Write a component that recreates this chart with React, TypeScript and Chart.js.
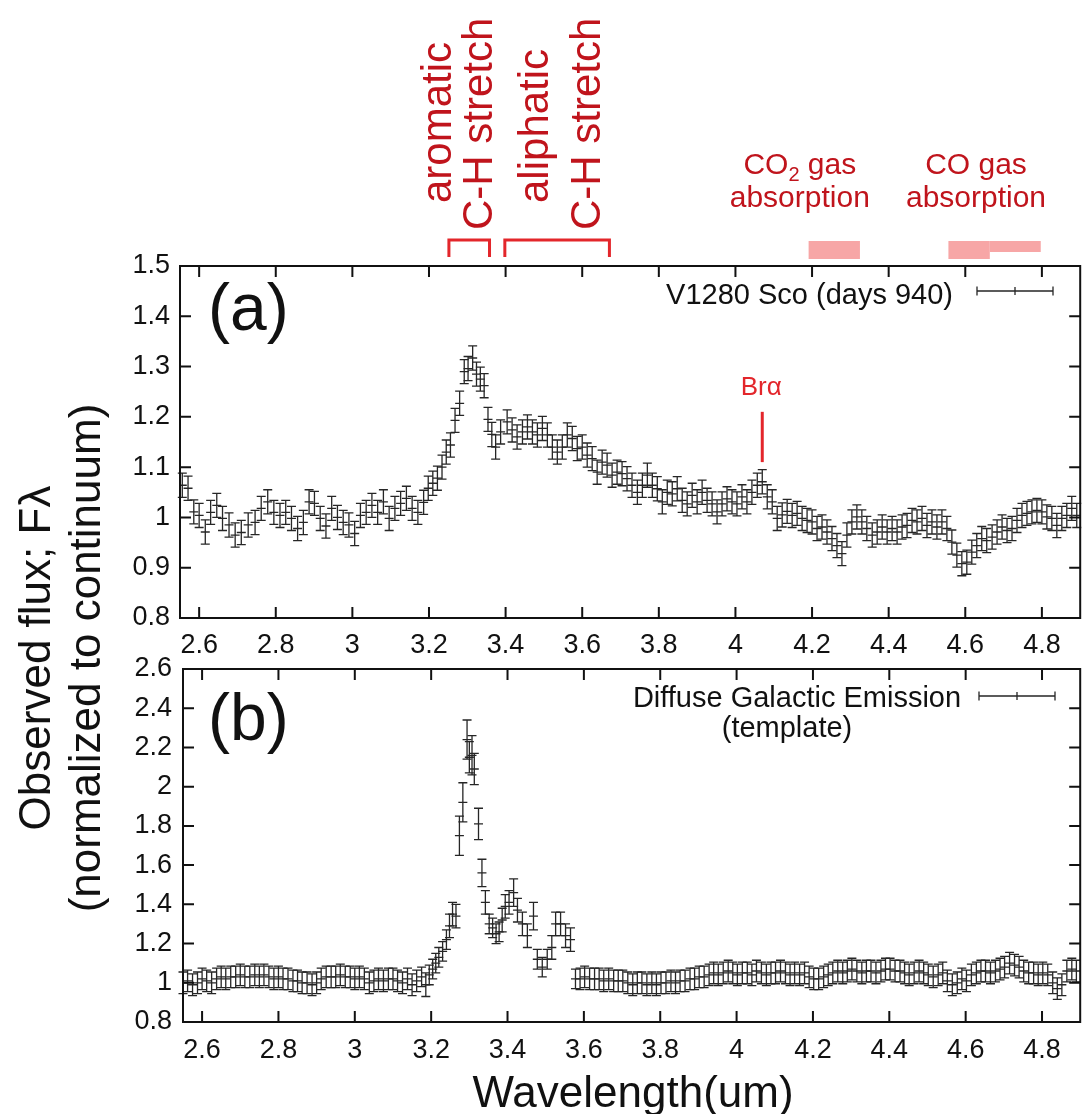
import React, { useEffect, useRef } from 'react';
import { Chart, registerables } from 'chart.js';

Chart.register(...registerables);

const PAGE_W = 1086;
const PAGE_H = 1114;
const FONT = '"Liberation Sans", Arial, Helvetica, sans-serif';
const INK = '#111111';
const BAR_INK = '#262626';
const DARK_RED = '#c0141c';
const RED = '#e3262b';
const PINK = '#f7a6a6';

// ---------- axes ----------
const X_MIN = 2.55;
const X_MAX = 4.9;
const X_TICKS = [2.6, 2.8, 3.0, 3.2, 3.4, 3.6, 3.8, 4.0, 4.2, 4.4, 4.6, 4.8];
const Y_TICKS_A = [0.8, 0.9, 1.0, 1.1, 1.2, 1.3, 1.4, 1.5];
const Y_TICKS_B = [0.8, 1.0, 1.2, 1.4, 1.6, 1.8, 2.0, 2.2, 2.4, 2.6];

// ---------- panel (a): V1280 Sco (days 940) ----------
const WL_A = [
  2.556, 2.571, 2.586, 2.600, 2.616, 2.630, 2.646, 2.661, 2.678, 2.694,
  2.710, 2.728, 2.746, 2.762, 2.779, 2.795, 2.811, 2.826, 2.841, 2.857,
  2.872, 2.887, 2.901, 2.916, 2.931, 2.946, 2.961, 2.976, 2.991, 3.006,
  3.021, 3.036, 3.051, 3.066, 3.081, 3.096, 3.111, 3.126, 3.141, 3.156,
  3.171, 3.186, 3.198, 3.210, 3.222, 3.234, 3.245, 3.256, 3.268, 3.280,
  3.292, 3.302, 3.314, 3.324, 3.334, 3.344, 3.354, 3.364, 3.374, 3.387,
  3.404, 3.417, 3.430, 3.444, 3.457, 3.470, 3.483, 3.496, 3.509, 3.522,
  3.535, 3.548, 3.561, 3.574, 3.587, 3.600, 3.613, 3.626, 3.639, 3.652,
  3.665, 3.678, 3.691, 3.704, 3.717, 3.730, 3.744, 3.757, 3.770, 3.783,
  3.796, 3.809, 3.822, 3.835, 3.848, 3.861, 3.874, 3.887, 3.900, 3.913,
  3.926, 3.939, 3.952, 3.965, 3.978, 3.991, 4.004, 4.017, 4.030, 4.043,
  4.057, 4.070, 4.083, 4.096, 4.109, 4.122, 4.135, 4.148, 4.161, 4.174,
  4.187, 4.200, 4.213, 4.226, 4.239, 4.252, 4.265, 4.278, 4.291, 4.304,
  4.317, 4.330, 4.343, 4.357, 4.370, 4.383, 4.396, 4.409, 4.422, 4.435,
  4.448, 4.461, 4.474, 4.487, 4.500, 4.513, 4.526, 4.539, 4.552, 4.565,
  4.578, 4.591, 4.604, 4.617, 4.630, 4.643, 4.656, 4.670, 4.683, 4.696,
  4.709, 4.722, 4.735, 4.748, 4.761, 4.774, 4.787, 4.800, 4.813, 4.826,
  4.839, 4.852, 4.865, 4.878, 4.891,
];
const FLUX_A = [
  1.064, 1.058, 1.011, 1.004, 0.971, 1.010, 1.024, 0.998, 0.985, 0.965,
  0.970, 0.985, 0.990, 1.018, 1.031, 1.010, 1.004, 1.010, 0.998, 0.978,
  0.990, 1.031, 1.028, 0.998, 0.983, 1.018, 1.000, 0.990, 0.985, 0.968,
  1.004, 1.010, 1.024, 1.010, 1.031, 0.998, 1.018, 1.028, 1.038, 1.018,
  1.010, 1.030, 1.058, 1.068, 1.078, 1.100, 1.130, 1.144, 1.193, 1.227,
  1.290, 1.296, 1.317, 1.285, 1.275, 1.262, 1.195, 1.165, 1.140, 1.170,
  1.190, 1.174, 1.160, 1.170, 1.180, 1.170, 1.164, 1.177, 1.164, 1.140,
  1.130, 1.140, 1.164, 1.157, 1.137, 1.140, 1.124, 1.117, 1.090, 1.110,
  1.104, 1.084, 1.090, 1.087, 1.077, 1.064, 1.050, 1.064, 1.084, 1.064,
  1.057, 1.031, 1.050, 1.047, 1.057, 1.034, 1.027, 1.044, 1.031, 1.050,
  1.034, 1.027, 1.011, 1.027, 1.037, 1.031, 1.027, 1.041, 1.031, 1.050,
  1.064, 1.071, 1.041, 1.031, 0.998, 1.005, 1.012, 1.004, 1.008, 0.998,
  0.994, 0.991, 0.978, 0.981, 0.971, 0.958, 0.944, 0.928, 0.965, 0.991,
  1.001, 0.991, 0.978, 0.965, 0.971, 0.981, 0.971, 0.978, 0.971, 0.981,
  0.984, 0.994, 0.991, 0.998, 0.984, 0.991, 0.981, 0.991, 0.978, 0.951,
  0.925, 0.908, 0.911, 0.931, 0.944, 0.958, 0.954, 0.961, 0.971, 0.981,
  0.974, 0.978, 0.994, 1.004, 1.008, 1.011, 1.014, 1.011, 1.001, 0.998,
  0.984, 0.998, 1.004, 1.018, 1.004,
];
const ERR_A = 0.024;

// ---------- panel (b): Diffuse Galactic Emission (template) ----------
const WL_B1 = [
  2.550, 2.562, 2.575, 2.588, 2.600, 2.612, 2.625, 2.638, 2.650, 2.662,
  2.675, 2.688, 2.700, 2.712, 2.725, 2.738, 2.750, 2.762, 2.775, 2.788,
  2.800, 2.812, 2.825, 2.838, 2.850, 2.862, 2.875, 2.888, 2.900, 2.912,
  2.925, 2.938, 2.950, 2.962, 2.975, 2.988, 3.000, 3.012, 3.025, 3.038,
  3.050, 3.062, 3.075, 3.088, 3.100, 3.112, 3.125, 3.138, 3.150, 3.162,
];
const FLUX_B1 = [
  1.00, 1.01, 0.99, 1.00, 1.02, 1.01, 1.00, 1.02, 1.03, 1.02,
  1.03, 1.03, 1.04, 1.03, 1.03, 1.04, 1.03, 1.04, 1.03, 1.02,
  1.03, 1.02, 1.02, 1.01, 1.01, 1.00, 1.00, 0.99, 1.00, 1.02,
  1.03, 1.03, 1.03, 1.04, 1.03, 1.03, 1.02, 1.03, 1.02, 1.00,
  1.01, 1.02, 1.01, 1.02, 1.02, 1.01, 1.00, 1.02, 0.99, 1.01,
];
const ERR_B1 = 0.055;

const WL_B2 = [
  3.175, 3.186, 3.195, 3.204, 3.212, 3.220, 3.230, 3.240, 3.248, 3.256,
  3.265, 3.274, 3.283, 3.294, 3.300, 3.307, 3.313, 3.324, 3.333, 3.342,
  3.352, 3.361, 3.370, 3.378, 3.386, 3.394, 3.404, 3.416, 3.426, 3.439,
  3.452, 3.468, 3.478, 3.491, 3.504, 3.516, 3.526, 3.539, 3.552, 3.565,
  3.578,
];
const FLUX_B2 = [
  1.03, 0.99, 1.04, 1.07, 1.10, 1.13, 1.16, 1.22, 1.29, 1.35,
  1.34, 1.75, 1.92, 2.24, 2.15, 2.16, 2.09, 1.81, 1.56, 1.41,
  1.30, 1.28, 1.25, 1.26, 1.32, 1.39, 1.41, 1.46, 1.37, 1.30,
  1.24, 1.34, 1.12, 1.08, 1.12, 1.18, 1.30, 1.30, 1.24, 1.22,
  1.02,
];
const ERR_B2 = [
  0.05, 0.06, 0.05, 0.05, 0.05, 0.05, 0.05, 0.05, 0.06, 0.06,
  0.06, 0.10, 0.10, 0.10, 0.08, 0.10, 0.08, 0.08, 0.07, 0.06,
  0.05, 0.05, 0.05, 0.05, 0.06, 0.06, 0.06, 0.07, 0.06, 0.06,
  0.06, 0.07, 0.05, 0.05, 0.05, 0.06, 0.06, 0.06, 0.06, 0.06,
  0.05,
];

const WL_B3 = [
  3.590, 3.602, 3.615, 3.628, 3.640, 3.652, 3.665, 3.678, 3.690, 3.702,
  3.715, 3.728, 3.740, 3.752, 3.765, 3.778, 3.790, 3.802, 3.815, 3.828,
  3.840, 3.852, 3.865, 3.878, 3.890, 3.902, 3.915, 3.928, 3.940, 3.952,
  3.965, 3.978, 3.990, 4.002, 4.015, 4.028, 4.040, 4.052, 4.065, 4.078,
  4.090, 4.102, 4.115, 4.128, 4.140, 4.152, 4.165, 4.178, 4.190, 4.202,
  4.215, 4.228, 4.240, 4.252, 4.265, 4.278, 4.290, 4.302, 4.315, 4.328,
  4.340, 4.352, 4.365, 4.378, 4.390, 4.402, 4.415, 4.428, 4.440, 4.452,
  4.465, 4.478, 4.490, 4.502, 4.515, 4.528, 4.540, 4.552, 4.565, 4.578,
  4.590, 4.602, 4.615, 4.628, 4.640, 4.652, 4.665, 4.678, 4.690, 4.702,
  4.715, 4.728, 4.740, 4.752, 4.765, 4.778, 4.790, 4.802, 4.815, 4.828,
  4.840, 4.852, 4.865, 4.878, 4.890,
];
const FLUX_B3 = [
  1.02, 1.03, 1.02, 1.02, 1.02, 1.01, 1.02, 1.01, 1.01, 1.01,
  1.00, 0.99, 1.00, 1.00, 0.99, 1.00, 0.99, 1.00, 1.00, 1.01,
  1.00, 1.01, 1.01, 1.02, 1.02, 1.03, 1.03, 1.04, 1.05, 1.04,
  1.05, 1.06, 1.05, 1.04, 1.05, 1.05, 1.04, 1.06, 1.05, 1.04,
  1.05, 1.05, 1.06, 1.05, 1.04, 1.05, 1.04, 1.05, 1.03, 1.02,
  1.02, 1.03, 1.04, 1.05, 1.06, 1.05, 1.06, 1.07, 1.06, 1.05,
  1.06, 1.06, 1.05, 1.06, 1.07, 1.07, 1.06, 1.06, 1.05, 1.04,
  1.05, 1.06, 1.05, 1.04, 1.03, 1.04, 1.05, 1.01, 0.99, 1.00,
  1.02, 1.01, 1.04, 1.05, 1.06, 1.06, 1.05, 1.06, 1.07, 1.08,
  1.10, 1.09, 1.08, 1.06, 1.05, 1.05, 1.04, 1.05, 1.04, 1.00,
  0.97, 0.99, 1.06, 1.07, 1.06,
];
const ERR_B3 = 0.055;

// ---------- annotation anchors (wavelength, um) ----------
const AROMATIC_BAND = [3.252, 3.358];
const ALIPHATIC_BAND = [3.398, 3.671];
const CO2_BAND = [4.191, 4.325];
const CO_BAND = [4.556, 4.664, 4.797];
const BR_ALPHA_WL = 4.07;
const BR_ALPHA_SPAN = [1.11, 1.21];
const BAND_LABELS = [
  { text: 'aromatic', wl: 3.2575, start: 203 },
  { text: 'C-H stretch', wl: 3.3634, start: 230 },
  { text: 'aliphatic', wl: 3.5105, start: 203 },
  { text: 'C-H stretch', wl: 3.6462, start: 230 },
];
const GAS_LABELS = [
  { main: 'CO', sub: '2', rest: ' gas', wl: 4.168 },
  { main: 'CO', sub: '', rest: ' gas', wl: 4.628 },
];

type Area = { left: number; right: number; top: number; bottom: number };

function vText(ctx: CanvasRenderingContext2D, text: string, x: number, y: number, align: CanvasTextAlign) {
  ctx.save();
  ctx.translate(x, y);
  ctx.rotate(-Math.PI / 2);
  ctx.textAlign = align;
  ctx.textBaseline = 'alphabetic';
  ctx.fillText(text, 0, 0);
  ctx.restore();
}

function legendBar(ctx: CanvasRenderingContext2D, x1: number, x2: number, y: number) {
  ctx.save();
  ctx.strokeStyle = BAR_INK;
  ctx.lineWidth = 1.3;
  const xm = (x1 + x2) / 2;
  ctx.beginPath();
  ctx.moveTo(x1, y); ctx.lineTo(x2, y);
  ctx.moveTo(x1, y - 4.5); ctx.lineTo(x1, y + 4.5);
  ctx.moveTo(x2, y - 4.5); ctx.lineTo(x2, y + 4.5);
  ctx.moveTo(xm, y - 4); ctx.lineTo(xm, y + 4);
  ctx.stroke();
  ctx.restore();
}

const CAP = 4.5;

const frameAndErrors = {
  id: 'frameAndErrors',
  afterDatasetsDraw(chart: any) {
    const { ctx } = chart;
    const xs = chart.scales.x;
    const ys = chart.scales.y;
    ctx.save();
    ctx.strokeStyle = BAR_INK;
    ctx.lineWidth = 1.3;
    chart.data.datasets.forEach((ds: any) => {
      ds.data.forEach((p: any, i: number) => {
        const e = ds.errors[i];
        const px = xs.getPixelForValue(p.x);
        const yt = ys.getPixelForValue(p.y + e);
        const yb = ys.getPixelForValue(p.y - e);
        ctx.beginPath();
        ctx.moveTo(px, yt); ctx.lineTo(px, yb);
        ctx.moveTo(px - CAP, yt); ctx.lineTo(px + CAP, yt);
        ctx.moveTo(px - CAP, yb); ctx.lineTo(px + CAP, yb);
        ctx.stroke();
      });
    });
    ctx.restore();
  },
  afterDraw(chart: any) {
    const { ctx, chartArea: ca } = chart;
    const xs = chart.scales.x;
    const ys = chart.scales.y;
    const TL = 11;
    ctx.save();
    ctx.strokeStyle = INK;
    ctx.lineWidth = 2;
    ctx.strokeRect(ca.left, ca.top, ca.right - ca.left, ca.bottom - ca.top);
    ctx.beginPath();
    xs.ticks.forEach((t: any) => {
      const px = xs.getPixelForValue(t.value);
      ctx.moveTo(px, ca.bottom); ctx.lineTo(px, ca.bottom - TL);
      ctx.moveTo(px, ca.top); ctx.lineTo(px, ca.top + TL);
    });
    ys.ticks.forEach((t: any) => {
      const py = ys.getPixelForValue(t.value);
      ctx.moveTo(ca.left, py); ctx.lineTo(ca.left + TL, py);
      ctx.moveTo(ca.right, py); ctx.lineTo(ca.right - TL, py);
    });
    ctx.stroke();
    ctx.restore();
  },
};

const annotationsA = {
  id: 'annotationsA',
  afterDraw(chart: any) {
    const { ctx } = chart;
    const xs = chart.scales.x;
    const ys = chart.scales.y;
    const X = (v: number) => xs.getPixelForValue(v);
    ctx.save();

    // band labels (rotated)
    ctx.fillStyle = DARK_RED;
    ctx.font = `42px ${FONT}`;
    BAND_LABELS.forEach((l) => vText(ctx, l.text, X(l.wl), l.start, 'left'));

    // brackets
    ctx.strokeStyle = RED;
    ctx.lineWidth = 3;
    [AROMATIC_BAND, ALIPHATIC_BAND].forEach(([a, b]) => {
      ctx.beginPath();
      ctx.moveTo(X(a), 257); ctx.lineTo(X(a), 240); ctx.lineTo(X(b), 240); ctx.lineTo(X(b), 257);
      ctx.stroke();
    });

    // gas absorption boxes
    ctx.fillStyle = PINK;
    ctx.fillRect(X(CO2_BAND[0]), 241, X(CO2_BAND[1]) - X(CO2_BAND[0]), 18);
    ctx.fillRect(X(CO_BAND[0]), 241, X(CO_BAND[1]) - X(CO_BAND[0]), 18);
    ctx.fillRect(X(CO_BAND[1]), 241, X(CO_BAND[2]) - X(CO_BAND[1]), 11);

    // gas labels
    ctx.fillStyle = DARK_RED;
    ctx.textBaseline = 'alphabetic';
    GAS_LABELS.forEach((g) => {
      const cx = X(g.wl);
      ctx.font = `30px ${FONT}`;
      const wMain = ctx.measureText(g.main).width;
      const wRest = ctx.measureText(g.rest).width;
      ctx.font = `20px ${FONT}`;
      const wSub = g.sub ? ctx.measureText(g.sub).width : 0;
      let x0 = cx - (wMain + wSub + wRest) / 2;
      ctx.textAlign = 'left';
      ctx.font = `30px ${FONT}`;
      ctx.fillText(g.main, x0, 174);
      x0 += wMain;
      if (g.sub) {
        ctx.font = `20px ${FONT}`;
        ctx.fillText(g.sub, x0, 181);
        x0 += wSub;
      }
      ctx.font = `30px ${FONT}`;
      ctx.fillText(g.rest, x0, 174);
      ctx.textAlign = 'center';
      ctx.fillText('absorption', cx, 207);
    });

    // Br alpha marker
    ctx.fillStyle = RED;
    ctx.strokeStyle = RED;
    ctx.lineWidth = 3;
    ctx.font = `26px ${FONT}`;
    ctx.textAlign = 'center';
    ctx.fillText('Br\u03b1', X(BR_ALPHA_WL) - 1, 395);
    ctx.beginPath();
    ctx.moveTo(X(BR_ALPHA_WL), ys.getPixelForValue(BR_ALPHA_SPAN[1]));
    ctx.lineTo(X(BR_ALPHA_WL), ys.getPixelForValue(BR_ALPHA_SPAN[0]));
    ctx.stroke();

    // panel label + legend
    ctx.fillStyle = INK;
    ctx.textAlign = 'left';
    ctx.font = `66px ${FONT}`;
    ctx.fillText('(a)', 208, 330);
    ctx.font = `29px ${FONT}`;
    ctx.textAlign = 'right';
    ctx.fillText('V1280 Sco (days 940)', 953, 304);
    legendBar(ctx, 977, 1053, 291);

    // axis titles
    ctx.font = `44px ${FONT}`;
    vText(ctx, 'Observed flux; F\u03bb', 50, 658, 'center');
    vText(ctx, '(normalized to continuum)', 100, 658, 'center');
    ctx.textAlign = 'center';
    ctx.fillText('Wavelength(um)', 633, 1107);
    ctx.restore();
  },
};

const annotationsB = {
  id: 'annotationsB',
  afterDraw(chart: any) {
    const { ctx } = chart;
    ctx.save();
    ctx.fillStyle = INK;
    ctx.textBaseline = 'alphabetic';
    ctx.textAlign = 'left';
    ctx.font = `66px ${FONT}`;
    ctx.fillText('(b)', 208, 740);
    ctx.font = `29px ${FONT}`;
    ctx.textAlign = 'center';
    ctx.fillText('Diffuse Galactic Emission', 797, 707);
    ctx.fillText('(template)', 787, 737);
    legendBar(ctx, 979, 1055, 696);
    ctx.restore();
  },
};

function makeChart(
  canvas: HTMLCanvasElement,
  wl: number[],
  flux: number[],
  err: number[],
  yMin: number,
  yMax: number,
  yTicks: number[],
  area: Area,
  xPad: number,
  yPad: number,
  extra: any,
) {
  const X_AXIS_H = 60;
  const data = wl.map((x, i) => ({ x, y: flux[i] }));
  return new Chart(canvas, {
    type: 'scatter',
    data: {
      datasets: [
        {
          data,
          errors: err,
          showLine: false,
          pointStyle: 'line',
          pointRadius: 4.5,
          pointHoverRadius: 4.5,
          pointBorderWidth: 1.3,
          pointBorderColor: BAR_INK,
          pointBackgroundColor: BAR_INK,
          borderColor: BAR_INK,
        } as any,
      ],
    },
    options: {
      responsive: false,
      animation: false,
      devicePixelRatio: 1,
      events: [],
      layout: {
        padding: {
          left: 0,
          top: area.top,
          right: PAGE_W - area.right,
          bottom: PAGE_H - area.bottom - X_AXIS_H,
        },
      },
      plugins: {
        legend: { display: false },
        tooltip: { enabled: false },
      },
      scales: {
        x: {
          type: 'linear',
          min: X_MIN,
          max: X_MAX,
          afterBuildTicks: (s: any) => {
            s.ticks = X_TICKS.map((v) => ({ value: v }));
          },
          afterFit: (s: any) => {
            s.height = X_AXIS_H;
          },
          grid: { display: false, drawTicks: false },
          border: { display: false },
          ticks: {
            padding: xPad,
            color: INK,
            autoSkip: false,
            maxRotation: 0,
            font: { family: FONT, size: 27 },
            callback: (v: any) => String(Number(Number(v).toFixed(1))),
          },
        },
        y: {
          type: 'linear',
          min: yMin,
          max: yMax,
          afterBuildTicks: (s: any) => {
            s.ticks = yTicks.map((v) => ({ value: v }));
          },
          afterFit: (s: any) => {
            s.width = area.left;
          },
          grid: { display: false, drawTicks: false },
          border: { display: false },
          ticks: {
            padding: yPad,
            color: INK,
            autoSkip: false,
            font: { family: FONT, size: 27 },
            callback: (v: any) => String(Number(Number(v).toFixed(1))),
          },
        },
      },
    } as any,
    plugins: [frameAndErrors, extra],
  });
}

export default function App() {
  const refA = useRef<HTMLCanvasElement>(null);
  const refB = useRef<HTMLCanvasElement>(null);

  useEffect(() => {
    const errA = WL_A.map(() => ERR_A);
    const wlB = [...WL_B1, ...WL_B2, ...WL_B3];
    const fluxB = [...FLUX_B1, ...FLUX_B2, ...FLUX_B3];
    const errB = [...WL_B1.map(() => ERR_B1), ...ERR_B2, ...WL_B3.map(() => ERR_B3)];

    const chartB = makeChart(
      refB.current as HTMLCanvasElement,
      wlB, fluxB, errB, 0.8, 2.6, Y_TICKS_B,
      { left: 183, right: 1084, top: 669, bottom: 1022 },
      12, 11, annotationsB,
    );
    const chartA = makeChart(
      refA.current as HTMLCanvasElement,
      WL_A, FLUX_A, errA, 0.8, 1.5, Y_TICKS_A,
      { left: 180, right: 1082, top: 266, bottom: 618 },
      11, 10, annotationsA,
    );
    return () => {
      chartA.destroy();
      chartB.destroy();
    };
  }, []);

  const cs: React.CSSProperties = { position: 'absolute', left: 0, top: 0, width: PAGE_W, height: PAGE_H };
  return (
    <div style={{ position: 'absolute', left: 0, top: 0, width: PAGE_W, height: PAGE_H, background: '#ffffff', overflow: 'hidden' }}>
      <canvas ref={refB} width={PAGE_W} height={PAGE_H} style={cs} />
      <canvas ref={refA} width={PAGE_W} height={PAGE_H} style={cs} />
    </div>
  );
}
